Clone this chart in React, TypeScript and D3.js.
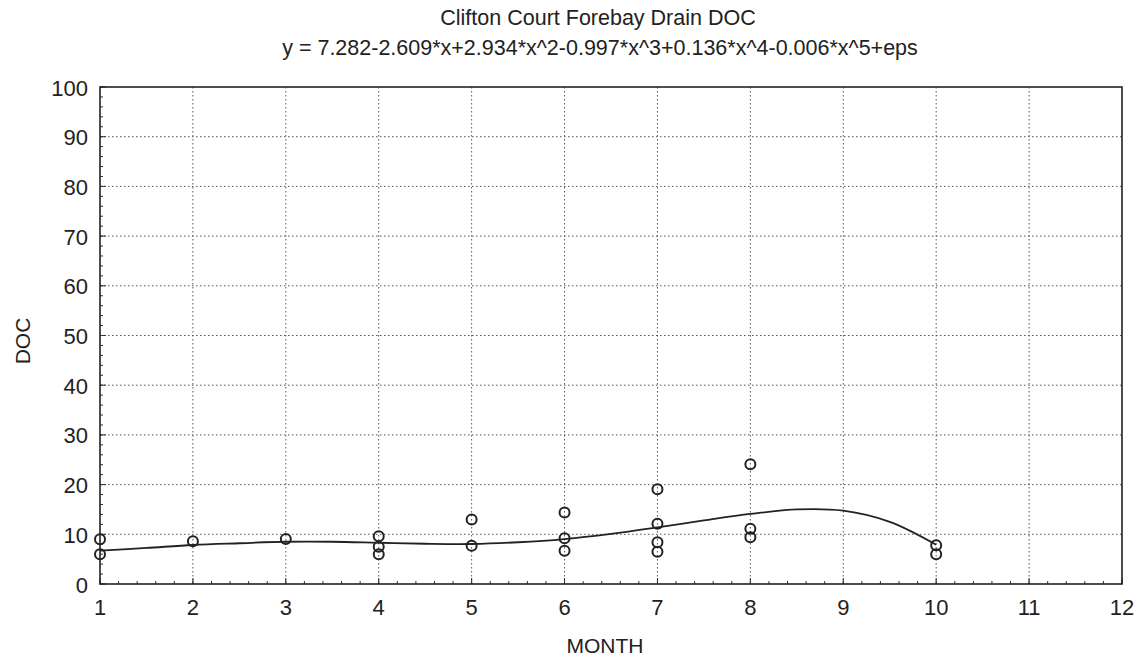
import React, { useEffect, useRef } from "react";
import * as d3 from "d3";

const obsMonth = [1, 1, 2, 3, 4, 4, 4, 5, 5, 6, 6, 6, 7, 7, 7, 7, 8, 8, 8, 10, 10];
const obsDoc = [9, 6, 8.6, 9.05, 9.6, 7.5, 6, 13, 7.7, 14.4, 9.2, 6.7, 19.05, 12.1, 8.4, 6.5, 24.1, 11.1, 9.4, 7.8, 6];

// fitted curve
const fitMonth = [1, 1.5, 2, 2.5, 3, 3.5, 4, 4.5, 5, 5.5, 6, 6.5, 7, 7.5, 8, 8.5, 9, 9.5, 10];
const fitDoc = [6.7, 7.25, 7.85, 8.2, 8.5, 8.5, 8.3, 8.1, 8.05, 8.4, 9.05, 10.1, 11.4, 12.8, 14.1, 15.0, 14.75, 12.5, 7.9];

const xTicks = [1, 2, 3, 4, 5, 6, 7, 8, 9, 10, 11, 12];
const yTicks = [0, 10, 20, 30, 40, 50, 60, 70, 80, 90, 100];

const title = "Clifton Court Forebay Drain DOC";
const equation = "y = 7.282-2.609*x+2.934*x^2-0.997*x^3+0.136*x^4-0.006*x^5+eps";

const W = 1145;
const H = 664;
const FONT = "'Liberation Sans', Arial, sans-serif";

export default function App() {
  const svgRef = useRef<SVGSVGElement | null>(null);

  useEffect(() => {
    if (!svgRef.current) return;
    const svg = d3.select(svgRef.current);
    svg.selectAll("*").remove();

    const left = 100, right = 1122, top = 87, bottom = 584;
    const x = d3.scaleLinear().domain([1, 12]).range([left, right]);
    const y = d3.scaleLinear().domain([0, 100]).range([bottom, top]);

    svg.append("rect").attr("width", W).attr("height", H).attr("fill", "#fff");

    // titles
    svg.append("text")
      .attr("x", 598).attr("y", 25)
      .attr("text-anchor", "middle")
      .attr("font-family", FONT).attr("font-size", 21.5).attr("fill", "#222")
      .text(title);
    svg.append("text")
      .attr("x", 600).attr("y", 55)
      .attr("text-anchor", "middle")
      .attr("font-family", FONT).attr("font-size", 21.5).attr("fill", "#222")
      .text(equation);

    // grid (dotted)
    const grid = svg.append("g")
      .attr("stroke", "#555").attr("stroke-width", 1)
      .attr("stroke-dasharray", "1.5,2.5");
    grid.selectAll(".gx")
      .data(xTicks.slice(1, -1))
      .enter().append("line")
      .attr("x1", d => x(d)).attr("x2", d => x(d))
      .attr("y1", top).attr("y2", bottom);
    grid.selectAll(".gy")
      .data(yTicks.slice(1, -1))
      .enter().append("line")
      .attr("x1", left).attr("x2", right)
      .attr("y1", d => y(d)).attr("y2", d => y(d));

    // minor ticks inside the frame
    const minorX = d3.range(1, 12.001, 0.2);
    const minorY = d3.range(0, 100.001, 2);
    const ticks = svg.append("g").attr("stroke", "#333").attr("stroke-width", 1);
    ticks.selectAll(".mx")
      .data(minorX)
      .enter().append("line")
      .attr("x1", d => x(d)).attr("x2", d => x(d))
      .attr("y1", bottom).attr("y2", bottom - 3);
    ticks.selectAll(".my")
      .data(minorY)
      .enter().append("line")
      .attr("x1", left).attr("x2", left + 3)
      .attr("y1", d => y(d)).attr("y2", d => y(d));
    ticks.selectAll(".Mx")
      .data(xTicks)
      .enter().append("line")
      .attr("x1", d => x(d)).attr("x2", d => x(d))
      .attr("y1", bottom).attr("y2", bottom - 6);
    ticks.selectAll(".My")
      .data(yTicks)
      .enter().append("line")
      .attr("x1", left).attr("x2", left + 6)
      .attr("y1", d => y(d)).attr("y2", d => y(d));

    // frame
    svg.append("rect")
      .attr("x", left).attr("y", top)
      .attr("width", right - left).attr("height", bottom - top)
      .attr("fill", "none").attr("stroke", "#222").attr("stroke-width", 1.6);

    // tick labels
    svg.append("g").selectAll("text")
      .data(xTicks)
      .enter().append("text")
      .attr("x", d => x(d)).attr("y", 615)
      .attr("text-anchor", "middle")
      .attr("font-family", FONT).attr("font-size", 22).attr("fill", "#222")
      .text(d => d);
    svg.append("g").selectAll("text")
      .data(yTicks)
      .enter().append("text")
      .attr("x", 88).attr("y", d => y(d) + 8.5)
      .attr("text-anchor", "end")
      .attr("font-family", FONT).attr("font-size", 22).attr("fill", "#222")
      .text(d => d);

    // axis titles
    svg.append("text")
      .attr("x", 605).attr("y", 653)
      .attr("text-anchor", "middle")
      .attr("font-family", FONT).attr("font-size", 21).attr("fill", "#222")
      .text("MONTH");
    svg.append("text")
      .attr("transform", `translate(30, 341) rotate(-90)`)
      .attr("text-anchor", "middle")
      .attr("font-family", FONT).attr("font-size", 21).attr("fill", "#222")
      .text("DOC");

    // fitted curve
    const line = d3.line<number>()
      .x((_, i) => x(fitMonth[i]))
      .y(d => y(d))
      .curve(d3.curveCatmullRom.alpha(0.5));
    svg.append("path")
      .datum(fitDoc)
      .attr("d", line)
      .attr("fill", "none")
      .attr("stroke", "#222")
      .attr("stroke-width", 1.8);

    // observations
    svg.append("g").selectAll("circle")
      .data(obsDoc)
      .enter().append("circle")
      .attr("cx", (_, i) => x(obsMonth[i]))
      .attr("cy", d => y(d))
      .attr("r", 5)
      .attr("fill", "none")
      .attr("stroke", "#222")
      .attr("stroke-width", 2);
  }, []);

  return (
    <svg
      ref={svgRef}
      width={W}
      height={H}
      style={{ position: "absolute", left: 0, top: 0, display: "block" }}
    />
  );
}
